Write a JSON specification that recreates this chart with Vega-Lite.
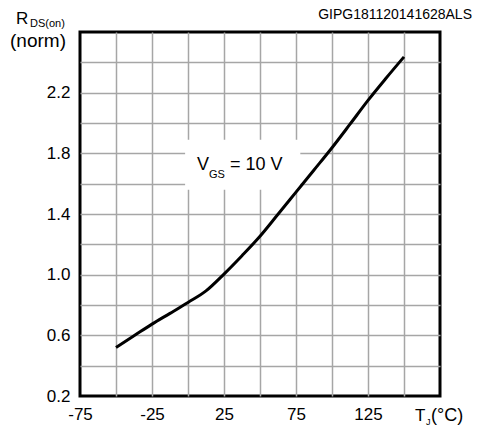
{
  "$schema": "https://vega.github.io/schema/vega-lite/v6.json",
  "width": 360,
  "height": 364,
  "autosize": {"type": "none"},
  "padding": {"left": 80, "top": 32, "right": 38, "bottom": 34},
  "background": "white",
  "config": {
    "font": "Liberation Sans",
    "view": {"stroke": "black", "strokeWidth": 3},
    "text": {"font": "Liberation Sans", "color": "black"}
  },
  "datasets": {
    "curve": [
      {"x": -50, "y": 0.52},
      {"x": -37.5, "y": 0.597},
      {"x": -25, "y": 0.674},
      {"x": -12.5, "y": 0.745},
      {"x": 0, "y": 0.817},
      {"x": 12.5, "y": 0.893},
      {"x": 25, "y": 1.004},
      {"x": 37.5, "y": 1.125},
      {"x": 50, "y": 1.253},
      {"x": 62.5, "y": 1.398},
      {"x": 75, "y": 1.544},
      {"x": 87.5, "y": 1.69},
      {"x": 100, "y": 1.837},
      {"x": 112.5, "y": 1.992},
      {"x": 125, "y": 2.149},
      {"x": 137.5, "y": 2.295},
      {"x": 150, "y": 2.436}
    ],
    "box": [{"x": -2, "x2": 78, "y": 1.56, "y2": 1.89}],
    "anchors": [
      {"key": "yt", "x": -75, "y": 2.6},
      {"key": "vgs", "x": 0, "y": 1.7},
      {"key": "tj", "x": 175, "y": 0.2},
      {"key": "code", "x": 175, "y": 2.6}
    ]
  },
  "encoding": {
    "x": {
      "field": "x",
      "type": "quantitative",
      "scale": {"domain": [-75, 175], "nice": false, "zero": false},
      "axis": {
        "values": [-75, -50, -25, 0, 25, 50, 75, 100, 125, 150, 175],
        "labelExpr": "(datum.value == -75 || datum.value == -25 || datum.value == 25 || datum.value == 75 || datum.value == 125) ? '' + datum.value : ''",
        "title": null,
        "grid": true,
        "gridColor": "#a6a6a6",
        "gridWidth": 1.5,
        "gridOpacity": {"condition": {"test": "datum.value == -75 || datum.value == 175", "value": 0}, "value": 1},
        "ticks": false,
        "domain": false,
        "labelFont": "Liberation Sans",
        "labelFontSize": 17,
        "labelColor": "black",
        "labelPadding": 10,
        "labelFlush": false,
        "labelOverlap": false,
        "labelBound": false
      }
    },
    "y": {
      "field": "y",
      "type": "quantitative",
      "scale": {"domain": [0.2, 2.6], "nice": false, "zero": false},
      "axis": {
        "values": [0.2, 0.4, 0.6, 0.8, 1, 1.2, 1.4, 1.6, 1.8, 2, 2.2, 2.4, 2.6],
        "labelExpr": "(datum.value == 0.2 || datum.value == 0.6 || datum.value == 1 || datum.value == 1.4 || datum.value == 1.8 || datum.value == 2.2) ? format(datum.value, '.1f') : ''",
        "title": null,
        "grid": true,
        "gridColor": "#a6a6a6",
        "gridWidth": 1.5,
        "gridOpacity": {"condition": {"test": "datum.value == 0.2 || datum.value == 2.6", "value": 0}, "value": 1},
        "ticks": false,
        "domain": false,
        "labelFont": "Liberation Sans",
        "labelFontSize": 17,
        "labelColor": "black",
        "labelPadding": 10,
        "labelFlush": false,
        "labelOverlap": false,
        "labelBound": false
      }
    }
  },
  "layer": [
    {
      "data": {"name": "box"},
      "mark": {"type": "rect", "fill": "white", "stroke": null},
      "encoding": {"x2": {"field": "x2"}, "y2": {"field": "y2"}}
    },
    {
      "data": {"name": "curve"},
      "mark": {"type": "line", "color": "black", "strokeWidth": 3, "interpolate": "monotone"}
    },
    {
      "data": {"name": "anchors"},
      "transform": [{"filter": "datum.key == 'yt'"}],
      "mark": {"type": "text", "text": "R", "align": "left", "baseline": "alphabetic", "dx": -64, "dy": -8, "fontSize": 17}
    },
    {
      "data": {"name": "anchors"},
      "transform": [{"filter": "datum.key == 'yt'"}],
      "mark": {"type": "text", "text": "DS(on)", "align": "left", "baseline": "alphabetic", "dx": -50, "dy": -5, "fontSize": 11}
    },
    {
      "data": {"name": "anchors"},
      "transform": [{"filter": "datum.key == 'yt'"}],
      "mark": {"type": "text", "text": "(norm)", "align": "center", "baseline": "alphabetic", "dx": -42, "dy": 15, "fontSize": 19}
    },
    {
      "data": {"name": "anchors"},
      "transform": [{"filter": "datum.key == 'vgs'"}],
      "mark": {"type": "text", "text": "V", "align": "left", "baseline": "alphabetic", "dx": 9, "dy": 1, "fontSize": 18}
    },
    {
      "data": {"name": "anchors"},
      "transform": [{"filter": "datum.key == 'vgs'"}],
      "mark": {"type": "text", "text": "GS", "align": "left", "baseline": "alphabetic", "dx": 21, "dy": 9, "fontSize": 11}
    },
    {
      "data": {"name": "anchors"},
      "transform": [{"filter": "datum.key == 'vgs'"}],
      "mark": {"type": "text", "text": "= 10 V", "align": "left", "baseline": "alphabetic", "dx": 42, "dy": 1, "fontSize": 18}
    },
    {
      "data": {"name": "anchors"},
      "transform": [{"filter": "datum.key == 'tj'"}],
      "mark": {"type": "text", "text": "T", "align": "left", "baseline": "alphabetic", "dx": -25, "dy": 25, "fontSize": 17}
    },
    {
      "data": {"name": "anchors"},
      "transform": [{"filter": "datum.key == 'tj'"}],
      "mark": {"type": "text", "text": "J", "align": "left", "baseline": "alphabetic", "dx": -14, "dy": 29, "fontSize": 9}
    },
    {
      "data": {"name": "anchors"},
      "transform": [{"filter": "datum.key == 'tj'"}],
      "mark": {"type": "text", "text": "(°C)", "align": "left", "baseline": "alphabetic", "dx": -9, "dy": 25, "fontSize": 18}
    },
    {
      "data": {"name": "anchors"},
      "transform": [{"filter": "datum.key == 'code'"}],
      "mark": {"type": "text", "text": "GIPG181120141628ALS", "align": "right", "baseline": "alphabetic", "dx": 32, "dy": -13, "fontSize": 14}
    }
  ]
}
